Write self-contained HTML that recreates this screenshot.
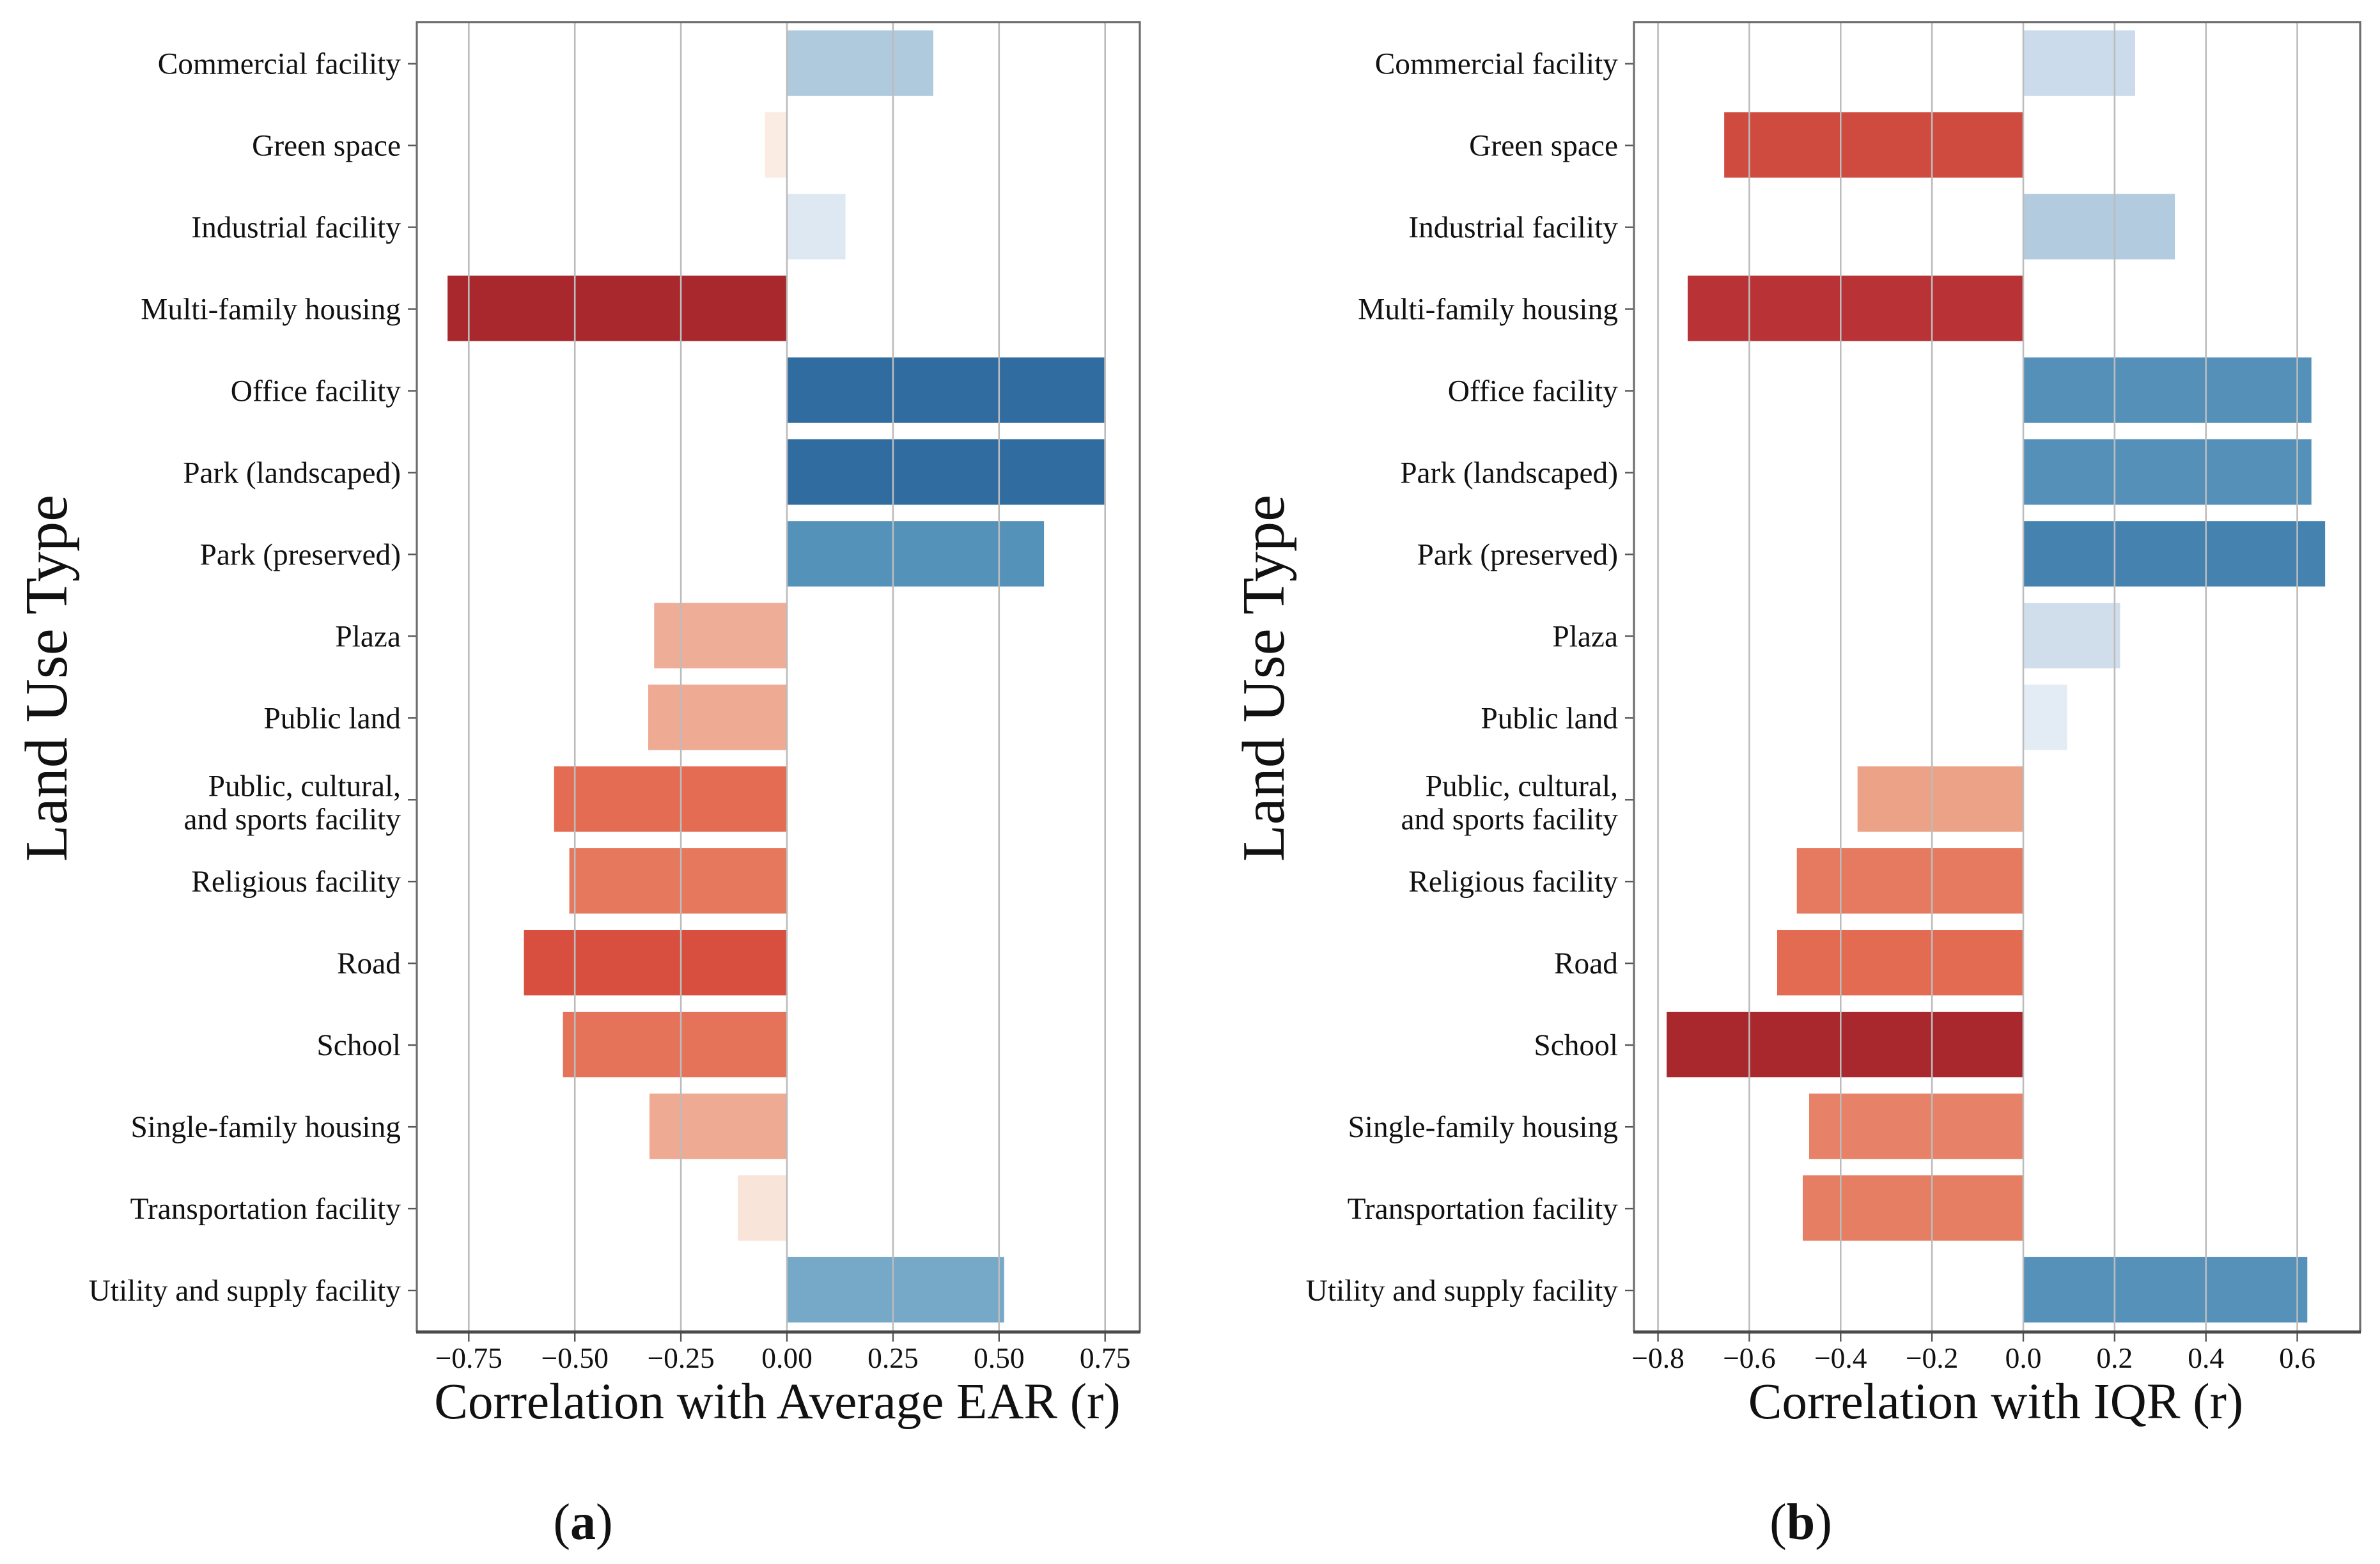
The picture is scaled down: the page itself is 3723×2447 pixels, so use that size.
<!DOCTYPE html>
<html lang="en">
<head>
<meta charset="utf-8">
<title>Land use correlation charts</title>
<style>
html,body{margin:0;padding:0;background:#fff;width:3723px;height:2447px;overflow:hidden}
svg{display:block}
text{font-family:"Liberation Serif","Times New Roman",serif;fill:#111}
</style>
</head>
<body>
<svg id="chart" xmlns="http://www.w3.org/2000/svg" width="3723" height="2447" viewBox="0 0 3723 2447"></svg>
<script>
const categories = ["Commercial facility","Green space","Industrial facility","Multi-family housing","Office facility","Park (landscaped)","Park (preserved)","Plaza","Public land","Public, cultural,\nand sports facility","Religious facility","Road","School","Single-family housing","Transportation facility","Utility and supply facility"];
const earValues = [0.345,-0.052,0.138,-0.80,0.748,0.748,0.606,-0.313,-0.327,-0.549,-0.513,-0.62,-0.528,-0.324,-0.116,0.512];
const iqrValues = [0.245,-0.655,0.332,-0.735,0.631,0.631,0.661,0.212,0.096,-0.363,-0.496,-0.539,-0.781,-0.469,-0.483,0.622];
const earTicks = [-0.75,-0.5,-0.25,0,0.25,0.5,0.75];
const earTickLabels = ["\u22120.75","\u22120.50","\u22120.25","0.00","0.25","0.50","0.75"];
const iqrTicks = [-0.8,-0.6,-0.4,-0.2,0,0.2,0.4,0.6];
const iqrTickLabels = ["\u22120.8","\u22120.6","\u22120.4","\u22120.2","0.0","0.2","0.4","0.6"];

const NS = "http://www.w3.org/2000/svg";
const root = document.getElementById("chart");
const negRamp = [[0,"#fdf3ec"],[0.15,"#f8e3d8"],[0.4,"#eeab94"],[0.465,"#eba287"],[0.635,"#e67a60"],[0.69,"#e36b52"],[0.775,"#d84f3f"],[0.84,"#cf4a3f"],[0.94,"#b93236"],[1,"#a8282d"]];
const posRamp = [[0,"#f0f4f8"],[0.123,"#e3ebf4"],[0.17,"#dde8f3"],[0.27,"#d0deec"],[0.314,"#cbdbeb"],[0.425,"#b2cbde"],[0.64,"#76a8c8"],[0.757,"#5592ba"],[0.81,"#5590b9"],[0.846,"#4682b0"],[0.935,"#316ca1"],[1,"#2a6099"]];

function hexToRgb(h){return [1,3,5].map(function(i){return parseInt(h.substr(i,2),16);});}
function rampColor(v,maxAbs){
  const ramp = v<0 ? negRamp : posRamp;
  const t = Math.min(1,Math.abs(v)/maxAbs);
  for(let i=1;i<ramp.length;i++){
    if(t<=ramp[i][0]){
      const f=(t-ramp[i-1][0])/(ramp[i][0]-ramp[i-1][0]);
      const a=hexToRgb(ramp[i-1][1]),b=hexToRgb(ramp[i][1]);
      return "rgb("+a.map(function(c,k){return Math.round(c+(b[k]-c)*f);}).join(",")+")";
    }
  }
  return ramp[ramp.length-1][1];
}
function mk(tag,parent){const el=document.createElementNS(NS,tag);parent.appendChild(el);return el;}
function setAll(el,props){Object.keys(props).forEach(function(k){el.setAttribute(k,props[k]);});}

function drawPanel(panelId,values,ticks,tickLabels,xTitle,caption,geom){
  const top=geom.top,bottom=geom.bottom,left=geom.left,right=geom.right,axisY=geom.axisY;
  const xScale=function(v){return left+(v-geom.domain[0])/(geom.domain[1]-geom.domain[0])*(right-left);};
  const band=(bottom-top)/categories.length;
  const yCenter=function(i){return top+(i+0.5)*band;};
  const maxAbs=Math.max.apply(null,values.map(Math.abs));

  const panel=mk("g",root);
  
  

  const plotBg=mk("rect",panel);
  
  
  setAll(plotBg,{x:left,y:top,width:right-left,height:axisY-top,fill:"#fff"});

  const barHeight=band*0.8;
  values.forEach(function(v,i){
    const x0=xScale(0),x1=xScale(v);
    const bar=mk("rect",panel);
    
    
    setAll(bar,{x:Math.min(x0,x1),y:yCenter(i)-barHeight/2,width:Math.abs(x1-x0),height:barHeight,fill:rampColor(v,maxAbs)});
  });

  ticks.forEach(function(t,i){
    const x=xScale(t);
    const grid=mk("line",panel);
    
    
    setAll(grid,{x1:x,x2:x,y1:top,y2:axisY,stroke:"#bcbcbc","stroke-width":2.6});
    const tick=mk("line",panel);
    
    
    setAll(tick,{x1:x,x2:x,y1:axisY,y2:axisY+15,stroke:"#555","stroke-width":2.4});
    const lab=mk("text",panel);
    
    
    setAll(lab,{x:x,y:geom.tickBaseline,"text-anchor":"middle","font-size":45.5});
    lab.textContent=tickLabels[i];
  });

  categories.forEach(function(c,i){
    const y=yCenter(i);
    const tick=mk("line",panel);
    
    
    setAll(tick,{x1:left-14,x2:left,y1:y+1,y2:y+1,stroke:"#555","stroke-width":2.4});
    const lines=c.split("\n");
    lines.forEach(function(line,k){
      const lab=mk("text",panel);
      
      
      const by = lines.length===1 ? y+17 : y-5+k*52;
      setAll(lab,{x:left-25,y:by,"text-anchor":"end","font-size":47.4});
      lab.textContent=line;
    });
  });

  const frame=mk("path",panel);
  
  
  setAll(frame,{d:"M"+left+" "+axisY+"V"+top+"H"+right+"V"+axisY,fill:"none",stroke:"#6e6e6e","stroke-width":3.2});
  const baseAxis=mk("line",panel);
  
  
  setAll(baseAxis,{x1:left-1,x2:right+1,y1:axisY,y2:axisY,stroke:"#4a4a4a","stroke-width":5});

  const xt=mk("text",panel);
  
  
  setAll(xt,{x:geom.xTitleX,y:2219,"text-anchor":"middle","font-size":79});
  xt.textContent=xTitle;

  const yt=mk("text",panel);
  
  
  setAll(yt,{transform:"translate("+geom.yTitleX+" 1061) rotate(-90)","text-anchor":"middle","font-size":94.5});
  yt.textContent="Land Use Type";

  const cap=mk("text",panel);
  
  
  setAll(cap,{x:geom.captionX,y:2408,"text-anchor":"middle","font-size":80});
  cap.appendChild(document.createTextNode("("));
  const bold=mk("tspan",cap);
  bold.setAttribute("font-weight","bold");
  bold.textContent=caption;
  cap.appendChild(document.createTextNode(")"));
}

drawPanel("ear",earValues,earTicks,earTickLabels,"Correlation with Average EAR (r)","a",
  {top:34.7,bottom:2082,axisY:2084,left:652,right:1783,domain:[-0.8725,0.8318],tickBaseline:2140,xTitleX:1216,yTitleX:104,captionX:912});
drawPanel("iqr",iqrValues,iqrTicks,iqrTickLabels,"Correlation with IQR (r)","b",
  {top:34.7,bottom:2082,axisY:2084,left:2556,right:3692,domain:[-0.8526,0.7378],tickBaseline:2140,xTitleX:3122,yTitleX:2008,captionX:2817});
</script>
</body>
</html>
